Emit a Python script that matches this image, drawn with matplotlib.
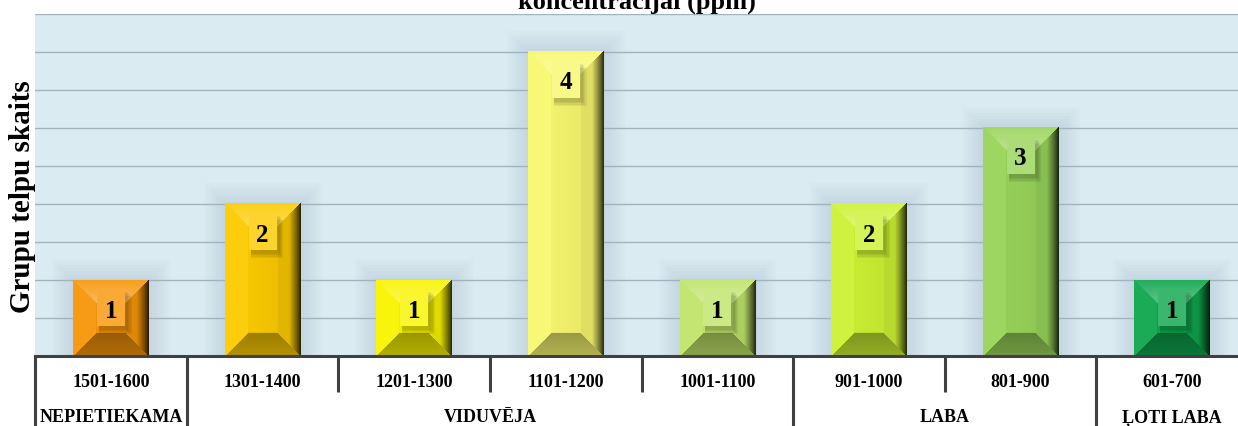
import numpy as np
import matplotlib
matplotlib.use("Agg")
import matplotlib.pyplot as plt
import matplotlib.transforms as mtransforms
from matplotlib.patches import Rectangle
from matplotlib.colors import to_rgb

# CO2 concentration ranges (ppm) and number of group rooms in each
ranges = ["1501-1600", "1301-1400", "1201-1300", "1101-1200",
          "1001-1100", "901-1000", "801-900", "601-700"]
counts = [1, 2, 1, 4, 1, 2, 3, 1]
groups = ["NEPIETIEKAMA", "VIDUVĒJA", "LABA", "ĻOTI LABA"]
group_sizes = [1, 4, 2, 1]
colors = ["#F7960A", "#FCCB00", "#F8F400", "#F8F870",
          "#C0E46A", "#CDF234", "#99D45A", "#0FA64E"]

title = "koncentrācijai (ppm)"
ylabel = "Grupu telpu skaits"

plt.rcParams["font.family"] = ["Liberation Serif", "DejaVu Serif"]

W_PX, H_PX = 1238, 426
fig = plt.figure(figsize=(W_PX / 100, H_PX / 100), dpi=100)
ax = fig.add_axes([35.2 / W_PX, 70 / H_PX, (1248 - 35.2) / W_PX, 342 / H_PX])
ax.set_facecolor("#DAEBF2")
xlim = (-0.5, len(ranges) - 0.5)
ylim = (0, 4.5)
ax.set_xlim(*xlim)
ax.set_ylim(*ylim)
ax.set_yticks(np.arange(0, 4.51, 0.5))
ax.yaxis.grid(True, color="#A3B3BD", lw=1.0)
ax.set_axisbelow(True)
ax.tick_params(left=False, labelleft=False, bottom=False, labelbottom=False)
for s in ["left", "right", "top"]:
    ax.spines[s].set_visible(False)
ax.spines["bottom"].set_color("#404040")
ax.spines["bottom"].set_linewidth(2.2)
ax.spines["bottom"].set_zorder(7)

x = np.arange(len(ranges))
bars = ax.bar(x, counts, width=0.5, color=colors, zorder=2, lw=0)

# pixel size of one data unit
p0 = ax.transData.transform((0, 0))
p1 = ax.transData.transform((1, 1))
sx, sy = p1 - p0

BEVEL = 23.0  # bevel depth in pixels
white = np.ones(3)

for bar, c, v in zip(bars, colors, counts):
    x0, w, h = bar.get_x(), bar.get_width(), bar.get_height()
    base = np.array(to_rgb(c))

    # soft shadow around the bar
    for k in range(1, 8):
        e = k * 3.0
        ax.add_patch(Rectangle((x0 - e / sx, 0), w + 2 * e / sx, h + e / sy,
                               color="#5A7888", alpha=0.018, lw=0, zorder=0.3))

    # bevelled face rendered as a small image over the bar
    Wp = int(round(w * sx))
    Hp = int(round(h * sy))
    jj, ii = np.meshgrid(np.arange(Wp) + 0.5, np.arange(Hp) + 0.5)
    d = np.stack([jj, Wp - jj, ii, Hp - ii])  # left, right, bottom, top
    m = d.min(axis=0)
    face = d.argmin(axis=0)
    t = np.clip(m / BEVEL, 0, 1)[..., None]
    shape = (Hp, Wp, 3)

    xr = (jj / Wp)[..., None]
    front = np.broadcast_to(base * (1 - 0.08 * xr), shape)
    left = np.broadcast_to(base * 0.95 + white * 0.05, shape)
    rf = 0.12 + 0.78 * np.clip(t * 1.9, 0, 1) ** 0.8
    right = np.broadcast_to(base * rf, shape)
    bottom = np.broadcast_to(base * (0.72 - 0.1 * t), shape)
    top = np.broadcast_to(base * (0.92 - 0.25 * t) + white * (0.08 + 0.25 * t), shape)

    img = np.array(front)
    bev = m < BEVEL
    for idx, arr in enumerate([left, right, bottom, top]):
        sel = bev & (face == idx)
        img[sel] = arr[sel]
    img = np.clip(img, 0, 1)
    ax.imshow(img, extent=[x0, x0 + w, 0, h], origin="lower", aspect="auto",
              interpolation="bilinear", zorder=3)

    # value label box
    xc = x0 + w / 2
    bw, bh = 28 / sx, 38 / sy
    yc = h - 27 / sy
    for k in range(1, 5):
        e = k * 1.2
        ax.add_patch(Rectangle((xc - bw / 2 + 2 / sx, yc - bh / 2 - 3 / sy - e / sy),
                               bw + e / sx, bh, color="black", alpha=0.06,
                               lw=0, zorder=4))
    box_col = np.clip(base * 0.82 + white * 0.18, 0, 1)
    ax.add_patch(Rectangle((xc - bw / 2, yc - bh / 2), bw, bh,
                           color=box_col, lw=0, zorder=5))
    ax.text(xc, h - 37.5 / sy, str(v), ha="center", va="baseline",
            fontsize=18, fontweight="bold", color="black", zorder=6)

# category table under the axis
trans = mtransforms.blended_transform_factory(ax.transData, ax.transAxes)
bounds = set((np.cumsum([0] + group_sizes) - 0.5).tolist())
inner_depth = 36 / 342
full_depth = 90 / 342
for k in range(len(ranges)):
    xb = k - 0.5
    depth = full_depth if xb in bounds else inner_depth
    ax.plot([xb, xb], [0, -depth], transform=trans, clip_on=False,
            color="#404040", lw=2.2, solid_capstyle="butt", zorder=7)

for xi, lab in zip(x, ranges):
    ax.text(xi, -31 / 342, lab, transform=trans, ha="center", va="baseline",
            fontsize=13, fontweight="bold", clip_on=False)

start = 0
for g, n in zip(groups, group_sizes):
    gc = start + (n - 1) / 2
    ax.text(gc, -66 / 342, g, transform=trans, ha="center", va="baseline",
            fontsize=13, fontweight="bold", clip_on=False)
    start += n

ax.set_xlim(*xlim)
ax.set_ylim(*ylim)

fig.text(637 / W_PX, 1 - 9 / H_PX, title, ha="center", va="baseline",
         fontsize=19, fontweight="bold")
fig.text(23 / W_PX, 1 - 197 / H_PX, ylabel, rotation=90, ha="center",
         va="center", fontsize=21, fontweight="bold")

fig.savefig("out.png", dpi=100)
